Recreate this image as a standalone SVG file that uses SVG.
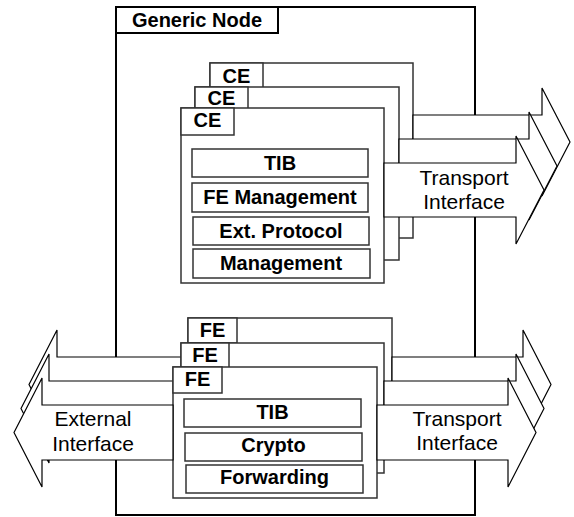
<svg xmlns="http://www.w3.org/2000/svg" width="574" height="517" viewBox="0 0 574 517">
<style>
.frame{fill:#fff;stroke:#000;stroke-width:2}
.box{fill:#fff;stroke:#333;stroke-width:1.5}
.ibox{fill:#fff;stroke:#333;stroke-width:1.5}
.arrow{fill:#fff;stroke:#000;stroke-width:1.2;stroke-linejoin:miter}
.b{font-family:"Liberation Sans",Arial,sans-serif;font-weight:bold;font-size:20px;fill:#000;text-anchor:middle}
.n{font-family:"Liberation Sans",Arial,sans-serif;font-size:21px;fill:#000;text-anchor:middle}
</style>
<rect width="574" height="517" fill="#fff"/>
<g id="generic-node">
<rect class="frame" x="116" y="7" width="359" height="508"/>
<rect class="frame" x="116" y="7" width="162" height="26"/>
<text class="b" x="197" y="27" font-size="21">Generic Node</text>
</g>
<g id="ce-back">
<rect class="box" x="210" y="63" width="203" height="175"/>
<rect class="box" x="210" y="63" width="53" height="25"/>
<text class="b" x="236.5" y="83">CE</text>
</g>
<g id="connectors-ce-back">
<polygon class="arrow" points="413,115 542,115 542,88 570,142 542,196 542,169 413,169"/>
</g>
<g id="ce-middle">
<rect class="box" x="195" y="87" width="204" height="173"/>
<rect class="box" x="195" y="87" width="53" height="24"/>
<text class="b" x="221.5" y="105">CE</text>
</g>
<g id="connectors-ce-middle">
<polygon class="arrow" points="399,139 529,139 529,112 557,166 529,220 529,193 399,193"/>
</g>
<g id="ce-front">
<rect class="box" x="181" y="108" width="203" height="175"/>
<rect class="box" x="181" y="108" width="53" height="27"/>
<text class="b" x="207.5" y="127">CE</text>
<rect class="ibox" x="192" y="149" width="176" height="28"/>
<text class="b" x="280" y="170">TIB</text>
<rect class="ibox" x="192" y="183" width="176" height="29"/>
<text class="b" x="280" y="204">FE Management</text>
<rect class="ibox" x="193" y="217" width="176" height="28"/>
<text class="b" x="281" y="238">Ext. Protocol</text>
<rect class="ibox" x="193" y="249" width="177" height="29"/>
<text class="b" x="281" y="270">Management</text>
</g>
<g id="transport-ce">
<polygon class="arrow" points="384,163 516,163 516,136 544,190 516,244 516,217 384,217"/>
<text class="n" x="464" y="185">Transport</text>
<text class="n" x="464" y="209">Interface</text>
</g>
<g id="fe-back">
<rect class="box" x="188" y="318" width="204" height="130"/>
<rect class="box" x="188" y="318" width="49" height="25"/>
<text class="b" x="212.5" y="337">FE</text>
</g>
<g id="connectors-fe-back">
<polygon class="arrow" points="392,357 523,357 523,330 551,384.5 523,439 523,412 392,412"/>
<polygon class="arrow" points="188,357 57,357 57,330 29,384.5 57,439 57,412 188,412"/>
</g>
<g id="fe-middle">
<rect class="box" x="181" y="343" width="203" height="130"/>
<rect class="box" x="181" y="343" width="48" height="25"/>
<text class="b" x="205" y="362">FE</text>
</g>
<g id="connectors-fe-middle">
<polygon class="arrow" points="384,381 516,381 516,354 544,408.5 516,463 516,436 384,436"/>
<polygon class="arrow" points="181,381 49,381 49,354 21,408.5 49,463 49,436 181,436"/>
</g>
<g id="fe-front">
<rect class="box" x="173" y="367" width="204" height="131"/>
<rect class="box" x="173" y="367" width="49" height="26"/>
<text class="b" x="197.5" y="386">FE</text>
<rect class="ibox" x="184" y="399" width="177" height="28"/>
<text class="b" x="272.5" y="419">TIB</text>
<rect class="ibox" x="185" y="433" width="177" height="28"/>
<text class="b" x="273.5" y="452">Crypto</text>
<rect class="ibox" x="186" y="465" width="177" height="28"/>
<text class="b" x="274.5" y="484">Forwarding</text>
</g>
<g id="transport-fe">
<polygon class="arrow" points="377,405 508,405 508,378 536,432.5 508,487 508,460 377,460"/>
<text class="n" x="457" y="426">Transport</text>
<text class="n" x="457" y="450">Interface</text>
</g>
<g id="external-fe">
<polygon class="arrow" points="173,405 42,405 42,378 14,432.5 42,487 42,460 173,460"/>
<text class="n" x="93" y="426">External</text>
<text class="n" x="93" y="451">Interface</text>
</g>
</svg>
